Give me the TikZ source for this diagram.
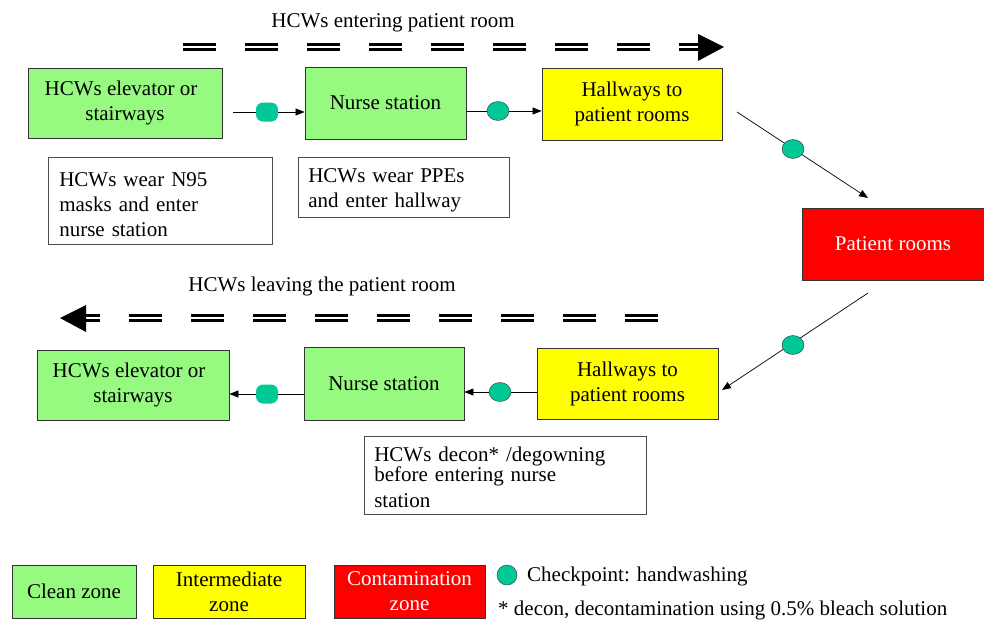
\documentclass[tikz,border=0pt]{standalone}
\usepackage{fontspec}
\setmainfont{Liberation Serif}
\usetikzlibrary{shapes.geometric,arrows.meta}
\definecolor{cgreen}{RGB}{150,250,128}
\definecolor{cyellow}{RGB}{255,255,0}
\definecolor{cred}{RGB}{255,0,0}
\definecolor{cteal}{RGB}{0,200,150}
\begin{document}
\begin{tikzpicture}[x=1pt,y=-1pt,
  every node/.style={font=\fontsize{21}{25}\selectfont},
  zone/.style={draw=black!80, line width=0.8pt, inner sep=0pt, align=center},
  clean/.style={zone, fill=cgreen},
  inter/.style={zone, fill=cyellow},
  contam/.style={zone, fill=cred, text=white},
  note/.style={draw=black!70, line width=0.6pt, inner ysep=0pt, align=left, anchor=north west},
  chk/.style={ellipse, draw=black!80, fill=cteal, minimum width=22pt, minimum height=19pt, inner sep=0pt},
  chkr/.style={rectangle, rounded corners=7pt, fill=cteal, minimum width=22pt, minimum height=19pt, inner sep=0pt},
  flow/.style={line width=0.7pt, -{Triangle[length=9pt,width=7pt]}},
  dbl/.style={line width=2.6pt, double distance=2.8pt, double=white, dash pattern=on 33pt off 29pt}
]
\useasboundingbox (0,0) rectangle (984,621);

% top labels and dashed flow
\node (lblin) at (393,23) {HCWs entering patient room};
\coordinate (din1) at (183,47);
\coordinate (din2) at (700,47);
\draw[dbl] (din1) -- (din2);
\fill (698,34) -- (724,47) -- (698,61) -- cycle;

% top row
\node[clean, minimum width=194pt, minimum height=70pt] (el1) at (125,103) {\hspace*{-8pt}HCWs elevator or\\stairways};
\node[clean, minimum width=161pt, minimum height=72pt] (ns1) at (385.5,103) {Nurse station};
\node[inter, minimum width=180pt, minimum height=72pt] (hw1) at (632,104) {Hallways to\\patient rooms};
\node[contam, minimum width=182pt, minimum height=72pt] (pr) at (893,244) {Patient rooms};

\node[note, minimum width=224pt, minimum height=87pt, text width=202pt, inner xsep=11pt] (n95) at (48,157) {\rule{0pt}{22pt}HCWs wear N95\\masks and enter\\nurse station};
\node[note, minimum width=211pt, minimum height=60pt, text width=191pt, inner xsep=10pt] (ppe) at (298,157) {\rule{0pt}{20pt}HCWs wear PPEs\\and enter hallway};

% top connectors
\coordinate (a1s) at (233,112);
\draw[flow] (a1s) -- (ns1.west |- a1s);
\node[chkr] (c1) at (267,112) {};
\draw[flow] (ns1.east |- 0,111) -- (hw1.west |- 0,111);
\node[chk] (c2) at (498,111) {};
\coordinate (d1s) at (737,112);
\coordinate (d1e) at (868,198);
\draw[flow] (d1s) -- (d1e);
\node[chk] (c3) at (793,149) {};

% right down connector
\coordinate (d2s) at (868,293);
\coordinate (d2e) at (722,390);
\draw[flow] (d2s) -- (d2e);
\node[chk] (c4) at (793,345) {};

% bottom labels and dashed flow
\node (lblout) at (322,286) {HCWs leaving the patient room};
\coordinate (dout1) at (658,318);
\coordinate (dout2) at (84,318);
\draw[dbl] (dout1) -- (dout2);
\fill (86,305) -- (60,318) -- (86,332) -- cycle;

% bottom row
\node[inter, minimum width=181pt, minimum height=71pt] (hw2) at (627.5,383.5) {Hallways to\\patient rooms};
\node[clean, minimum width=160pt, minimum height=73pt] (ns2) at (384,383.5) {Nurse station};
\node[clean, minimum width=192pt, minimum height=70pt] (el2) at (133,385) {\hspace*{-8pt}HCWs elevator or\\stairways};

\draw[flow] (hw2.west |- 0,392) -- (ns2.east |- 0,392);
\node[chk] (c5) at (500,392) {};
\draw[flow] (ns2.west |- 0,394) -- (el2.east |- 0,394);
\node[chkr] (c6) at (267,394) {};

\node[note, minimum width=282pt, minimum height=78pt, text width=262pt, inner xsep=10pt] (decon) at (364,436) {\rule{0pt}{19pt}HCWs decon* /degowning\\[-5pt]before entering nurse\\[1pt]station};

% legend
\node[clean, minimum width=124pt, minimum height=53pt] (lg1) at (74,591.5) {Clean zone};
\node[inter, minimum width=152pt, minimum height=53pt] (lg2) at (229,591.5) {Intermediate\\zone};
\node[contam, minimum width=151pt, minimum height=53pt] (lg3) at (409.5,591.5) {Contamination\\zone};
\node[chk, minimum width=20pt, minimum height=20pt] (lgc) at (507,575) {};
\node[anchor=west, inner sep=0pt] (lgct) at (527,576) {Checkpoint: handwashing};
\node[anchor=west, inner sep=0pt] (lgdt) at (498,610) {* decon, decontamination using 0.5\% bleach solution};
\end{tikzpicture}
\end{document}
